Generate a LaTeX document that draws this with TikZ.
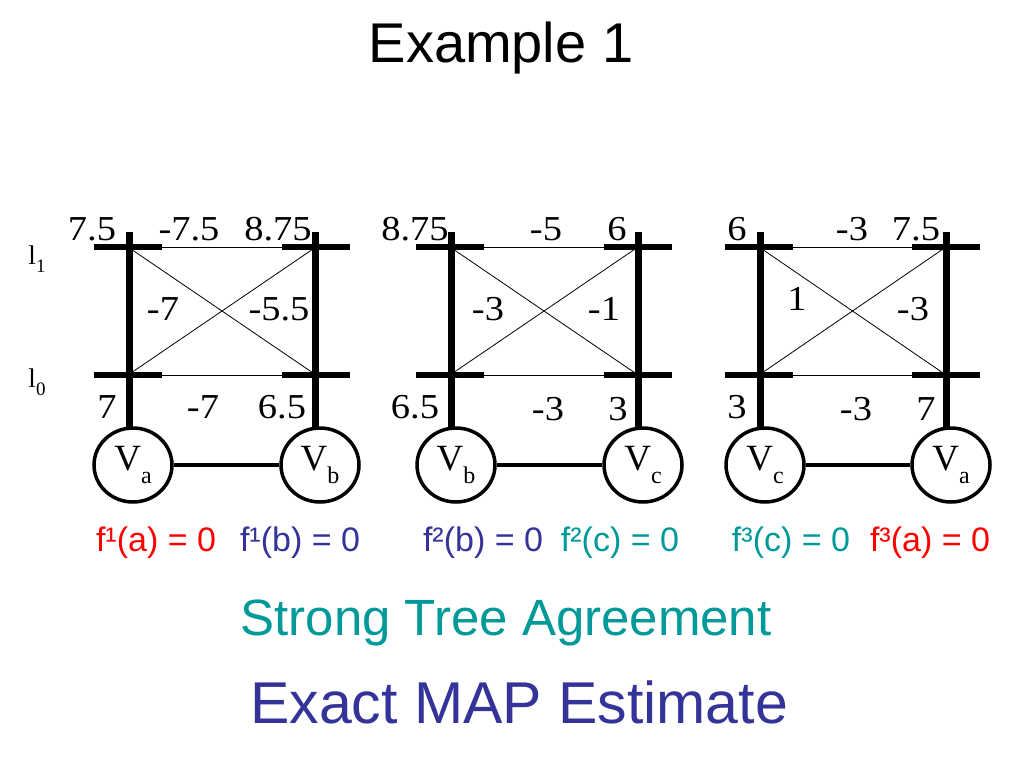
\documentclass[tikz,border=0pt]{standalone}
\usepackage{fontspec}
\setmainfont{Liberation Serif}
\newfontfamily\arial{Liberation Sans}
\newfontfamily\numfont[FakeStretch=1.1]{Liberation Serif}
\usetikzlibrary{shapes.geometric}
\definecolor{fred}{HTML}{FF0000}
\definecolor{fblue}{HTML}{333399}
\definecolor{fteal}{HTML}{009999}
\newcommand{\Vsub}[1]{V\raisebox{-0.33em}{\fontsize{24}{24}\selectfont #1}}
\newcommand{\Lsub}[1]{l\raisebox{-0.3em}{\fontsize{19}{19}\selectfont #1}}

\begin{document}
\begin{tikzpicture}
[x=1pt,y=-1pt,
 bar/.style={rectangle,fill=black,inner sep=0pt,minimum width=68pt,minimum height=6pt},
 var/.style={ellipse,draw=black,line width=3.5pt,inner sep=0pt,minimum width=78pt,minimum height=74pt,font=\fontsize{37}{37}\selectfont},
 pot/.style={anchor=base,inner sep=0pt,font=\numfont\fontsize{35}{35}\selectfont},
 lab/.style={anchor=base,inner sep=0pt,font=\arial\fontsize{34}{34}\selectfont},
 stem/.style={line width=7pt},
 link/.style={line width=4pt},
 pair/.style={line width=0.8pt}]

\useasboundingbox (0,0) rectangle (1024,768);

\node[anchor=base,font=\arial\fontsize{56}{56}\selectfont] (T) at (501,63) {Example 1};

\node[anchor=base,font=\fontsize{27}{27}\selectfont] (L1) at (37,264) {\Lsub{1}};
\node[anchor=base,font=\fontsize{27}{27}\selectfont] (L0) at (37,387) {\Lsub{0}};

% tree 1 : a - b
\coordinate (a1t) at (129,232);
\coordinate (a1b) at (129,428);
\coordinate (b1t) at (315,232);
\coordinate (b1b) at (315,428);
\draw[stem] (a1t) -- (a1b);
\draw[stem] (b1t) -- (b1b);

\node[bar] (a1l1) at (128,247) {};
\node[bar] (a1l0) at (128,375) {};
\node[bar] (b1l1) at (316,247) {};
\node[bar] (b1l0) at (316,375) {};

\draw[pair] (a1l1.east) -- (b1l1.west);
\draw[pair] (a1l0.east) -- (b1l0.west);
\draw[pair] (a1l1.center) -- (b1l0.center);
\draw[pair] (a1l0.center) -- (b1l1.center);

\node[var] (Va1) at (133,465) {\Vsub{a}};
\node[var] (Vb1) at (320,465) {\Vsub{b}};
\draw[link] (Va1) -- (Vb1);

\node[pot] at (92,240) {7.5};
\node[pot] at (189,240) {-7.5};
\node[pot] at (278,240) {8.75};
\node[pot] at (163,320) {-7};
\node[pot] at (279,320) {-5.5};
\node[pot] at (107,418) {7};
\node[pot] at (203,418) {-7};
\node[pot] at (282,418) {6.5};

\node[lab,text=fred] (fa1) at (156,551) {f¹(a) = 0};
\node[lab,text=fblue] (fb1) at (300,551) {f¹(b) = 0};

% tree 2 : b - c
\coordinate (b2t) at (451,232);
\coordinate (b2b) at (451,428);
\coordinate (c2t) at (638,232);
\coordinate (c2b) at (638,428);
\draw[stem] (b2t) -- (b2b);
\draw[stem] (c2t) -- (c2b);

\node[bar] (b2l1) at (450,247) {};
\node[bar] (b2l0) at (450,375) {};
\node[bar] (c2l1) at (638,247) {};
\node[bar] (c2l0) at (638,375) {};

\draw[pair] (b2l1.east) -- (c2l1.west);
\draw[pair] (b2l0.east) -- (c2l0.west);
\draw[pair] (b2l1.center) -- (c2l0.center);
\draw[pair] (b2l0.center) -- (c2l1.center);

\node[var] (Vb2) at (456,465) {\Vsub{b}};
\node[var] (Vc2) at (643,465) {\Vsub{c}};
\draw[link] (Vb2) -- (Vc2);

\node[pot] at (415,240) {8.75};
\node[pot] at (546,240) {-5};
\node[pot] at (617,240) {6};
\node[pot] at (488,320) {-3};
\node[pot] at (604,320) {-1};
\node[pot] at (415,418) {6.5};
\node[pot] at (548,420) {-3};
\node[pot] at (618,420) {3};

\node[lab,text=fblue] (fb2) at (483,551) {f²(b) = 0};
\node[lab,text=fteal] (fc2) at (620,551) {f²(c) = 0};

% tree 3 : c - a
\coordinate (c3t) at (760,232);
\coordinate (c3b) at (760,428);
\coordinate (a3t) at (946,232);
\coordinate (a3b) at (946,428);
\draw[stem] (c3t) -- (c3b);
\draw[stem] (a3t) -- (a3b);

\node[bar] (c3l1) at (759,247) {};
\node[bar] (c3l0) at (759,375) {};
\node[bar] (a3l1) at (946,247) {};
\node[bar] (a3l0) at (946,375) {};

\draw[pair] (c3l1.east) -- (a3l1.west);
\draw[pair] (c3l0.east) -- (a3l0.west);
\draw[pair] (c3l1.center) -- (a3l0.center);
\draw[pair] (c3l0.center) -- (a3l1.center);

\node[var] (Vc3) at (765,465) {\Vsub{c}};
\node[var] (Va3) at (951,465) {\Vsub{a}};
\draw[link] (Vc3) -- (Va3);

\node[pot] at (737,240) {6};
\node[pot] at (852,240) {-3};
\node[pot] at (916,240) {7.5};
\node[pot] at (797,310) {1};
\node[pot] at (913,320) {-3};
\node[pot] at (737,418) {3};
\node[pot] at (856,420) {-3};
\node[pot] at (926,420) {7};

\node[lab,text=fteal] (fc3) at (791,551) {f³(c) = 0};
\node[lab,text=fred] (fa3) at (930,551) {f³(a) = 0};

\node[anchor=base,text=fteal,font=\arial\fontsize{51}{51}\selectfont] (S) at (506,635) {Strong Tree Agreement};
\node[anchor=base,text=fblue,font=\arial\fontsize{59}{59}\selectfont] (E) at (519,723) {Exact MAP Estimate};
\end{tikzpicture}
\end{document}
